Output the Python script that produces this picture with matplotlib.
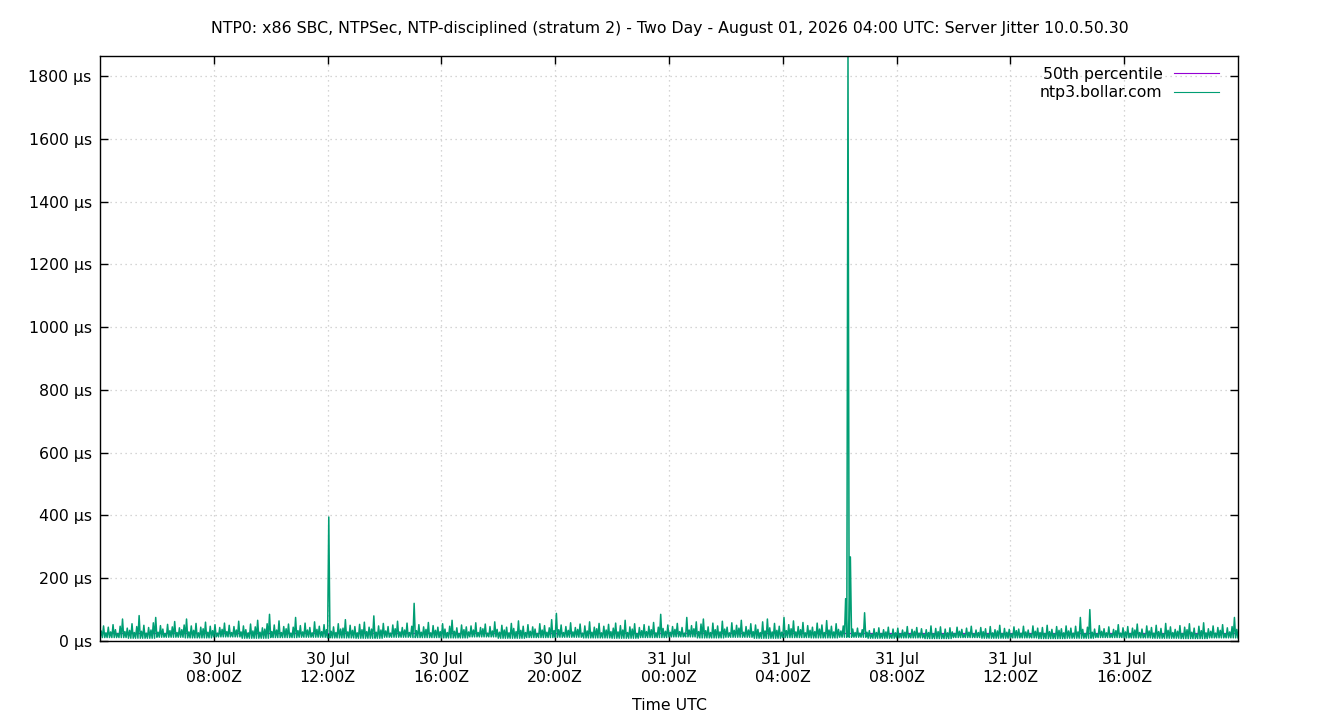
import matplotlib
matplotlib.use("Agg")
import matplotlib.pyplot as plt
import matplotlib.dates as mdates
import pandas as pd

title = "NTP0: x86 SBC, NTPSec, NTP-disciplined (stratum 2) - Two Day - August 01, 2026 04:00 UTC: Server Jitter 10.0.50.30"
start = "2026-07-30 04:00"
end = "2026-07-31 20:00"

# peak jitter (µs) per 5 minutes, one row per hour
jitter_rows = [
    [32, 48, 26, 44, 29, 52, 36, 24, 47, 70, 30, 41],
    [34, 55, 27, 46, 81, 31, 50, 25, 43, 35, 58, 75],
    [28, 49, 38, 24, 53, 33, 45, 62, 27, 42, 36, 51],
    [70, 29, 48, 34, 56, 26, 44, 39, 60, 28, 47, 33],
    [52, 25, 43, 37, 57, 30, 50, 27, 46, 35, 63, 29],
    [48, 36, 26, 54, 32, 45, 66, 28, 42, 38, 55, 85],
    [30, 51, 35, 64, 27, 46, 39, 54, 25, 44, 75, 33],
    [49, 29, 57, 35, 43, 26, 61, 37, 47, 30, 52, 36],
    [395, 31, 45, 27, 55, 38, 41, 68, 29, 50, 34, 46],
    [26, 53, 36, 60, 30, 44, 38, 80, 28, 48, 35, 56],
    [32, 46, 25, 51, 39, 63, 29, 43, 35, 57, 27, 47],
    [120, 33, 52, 28, 45, 37, 59, 26, 49, 34, 44, 30],
    [55, 38, 27, 47, 66, 31, 42, 24, 51, 36, 45, 29],
    [48, 35, 58, 27, 43, 39, 54, 25, 46, 32, 61, 37],
    [28, 50, 35, 44, 26, 56, 40, 30, 64, 34, 47, 27],
    [52, 31, 45, 38, 24, 55, 35, 49, 28, 42, 68, 33],
    [88, 36, 51, 27, 46, 34, 58, 29, 43, 37, 54, 25],
    [48, 32, 61, 28, 44, 39, 56, 26, 47, 35, 53, 30],
    [41, 57, 29, 49, 35, 66, 27, 45, 38, 55, 24, 43],
    [33, 52, 30, 47, 36, 59, 26, 44, 85, 40, 31, 51],
    [28, 46, 37, 56, 30, 43, 25, 75, 35, 49, 39, 61],
    [30, 54, 70, 33, 45, 27, 57, 36, 48, 29, 63, 38],
    [44, 26, 58, 34, 50, 41, 66, 28, 46, 35, 55, 30],
    [51, 37, 27, 61, 32, 70, 42, 29, 56, 34, 47, 28],
    [75, 33, 52, 39, 64, 29, 46, 36, 59, 26, 49, 34],
    [44, 30, 57, 38, 51, 27, 65, 35, 47, 29, 55, 37],
    [32, 48, 135, 1864, 268, 38, 27, 41, 25, 36, 90, 28],
    [33, 22, 39, 27, 42, 24, 36, 29, 44, 21, 38, 26],
    [41, 23, 35, 28, 46, 21, 37, 31, 43, 25, 39, 22],
    [36, 27, 48, 23, 40, 30, 45, 22, 38, 26, 42, 29],
    [24, 44, 31, 37, 21, 41, 28, 47, 23, 35, 27, 43],
    [30, 39, 22, 46, 26, 36, 32, 50, 24, 40, 28, 37],
    [23, 45, 33, 38, 25, 47, 29, 35, 22, 48, 31, 41],
    [27, 43, 24, 50, 30, 37, 23, 46, 34, 39, 26, 48],
    [32, 41, 25, 47, 29, 75, 37, 24, 44, 100, 28, 38],
    [23, 49, 31, 39, 26, 45, 22, 37, 33, 52, 25, 42],
    [29, 46, 24, 41, 35, 54, 27, 38, 22, 48, 32, 43],
    [25, 50, 30, 40, 23, 56, 34, 45, 27, 37, 31, 49],
    [24, 44, 36, 55, 28, 41, 22, 47, 33, 58, 26, 39],
    [31, 48, 25, 43, 34, 52, 23, 42, 29, 46, 75, 37],
]
# bottom of the jitter band (µs), one value per hour
floor_per_hour = [
    11, 9, 12, 10, 13, 9, 11, 12, 10, 9, 12, 11, 10, 13,
    9, 11, 12, 10, 9, 11, 13, 10, 12, 9, 11, 10, 12,
    9, 10, 8, 11, 9, 10, 8, 9, 11, 10, 9, 8, 10,
]
p50 = 26

yticks = [0, 200, 400, 600, 800, 1000, 1200, 1400, 1600, 1800]
xticks = pd.date_range("2026-07-30 08:00", "2026-07-31 16:00", freq="4h")

# alternate band bottom and peak, 2.5 minutes apart
jitter = []
for row, floor in zip(jitter_rows, floor_per_hour):
    for v in row:
        jitter += [floor, v]
jitter.append(floor_per_hour[-1])
times = pd.date_range(start, periods=len(jitter), freq="150s")

FS = 11.3
plt.rcParams['font.family'] = ['DejaVu Sans']
fig = plt.figure(figsize=(13.4, 7.2), dpi=100)
ax = fig.add_axes([100 / 1340, 1 - 641 / 720, 1138 / 1340, 585 / 720])

ax.plot(times, [p50] * len(times), color="#9400d3", lw=0.9, label="50th percentile")
ax.plot(times, jitter, color="#009e73", lw=1.1, label="ntp3.bollar.com")

ax.set_xlim(pd.Timestamp(start), pd.Timestamp(end))
ax.set_ylim(0, max(jitter))
ax.set_yticks(yticks)
ax.set_yticklabels([f"{v} µs" for v in yticks])
ax.set_xticks(xticks)
ax.xaxis.set_major_formatter(mdates.DateFormatter("%d %b\n%H:%MZ"))

ax.grid(True, color="#c8c8c8", linestyle=(0, (1, 3)), lw=0.9)
ax.tick_params(direction="in", length=6, width=1, top=True, right=True,
               labelsize=FS)
ax.tick_params(axis="y", pad=6)
ax.tick_params(axis="x", pad=8)
for s in ax.spines.values():
    s.set_linewidth(1)

ax.set_xlabel("Time UTC", fontsize=FS, labelpad=10)
fig.text(0.5, 1 - 29 / 720, title, ha="center", va="center", fontsize=FS)

leg = ax.legend(loc="upper right", frameon=False, markerfirst=False,
                fontsize=FS, handlelength=2.9, handletextpad=0.7,
                labelspacing=0.2, borderaxespad=0.3, bbox_to_anchor=(0.993, 1.0))
for t in leg.get_texts():
    t.set_ha("right")
for h in leg.get_lines():
    h.set_linewidth(0.8)

fig.savefig("out.png", dpi=100)
